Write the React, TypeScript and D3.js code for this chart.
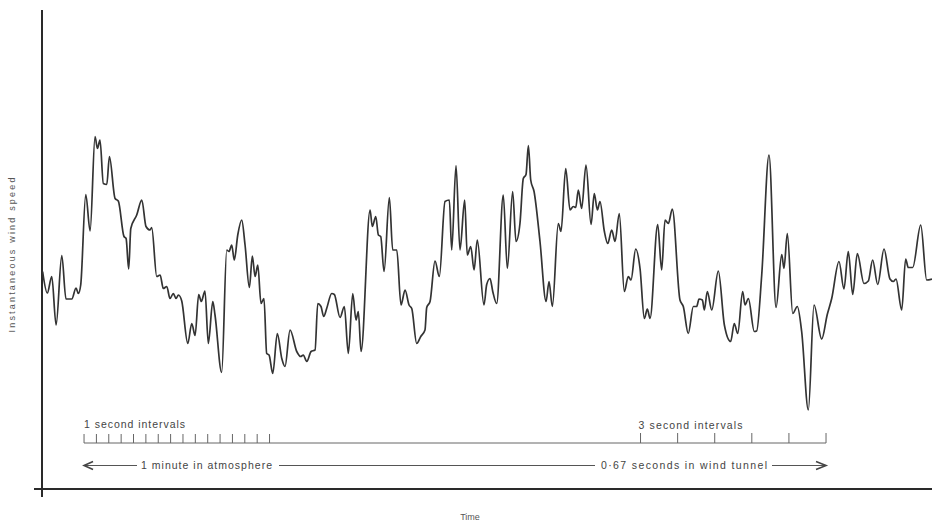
import React from "react";
import * as d3 from "d3";

// time in seconds (recorder trace, 1 minute in atmosphere = 0..60 s)
const timeS = [
  -3.35, -2.97, -2.61, -2.26, -1.8, -1.46, -0.99, -0.65, -0.46, -0.27, 0.14, 0.49, 0.89, 1.08, 1.29, 1.56, 1.84, 2.05, 2.51, 2.77,
  3.23, 3.4, 3.61, 3.78, 4.26, 4.67, 5.01, 5.34, 5.47, 5.88, 6.15, 6.41, 6.69, 6.95, 7.22, 7.44, 7.63, 7.9, 8.39, 8.71,
  8.98, 9.27, 9.48, 9.78, 10.05, 10.41, 10.59, 11.13, 11.54, 11.72, 11.94, 12.15, 12.43, 12.75, 13.02, 13.37, 13.61, 13.83, 14.05, 14.31,
  14.55, 14.77, 14.96, 15.26, 15.63, 15.99, 16.25, 16.66, 17.2, 17.52, 17.73, 18.01, 18.36, 18.68, 18.9, 19.16, 19.38, 19.62, 20.03, 20.24,
  20.7, 21.05, 21.37, 21.73, 21.99, 22.18, 22.4, 23.13, 23.31, 23.59, 23.8, 23.99, 24.26, 24.69, 24.96, 25.29, 25.63, 25.96, 26.28, 26.5,
  26.9, 27.23, 27.57, 27.71, 27.98, 28.38, 28.73, 29.19, 29.54, 29.73, 30.08, 30.4, 30.78, 30.99, 31.27, 31.54, 31.8, 32.34, 32.56, 32.83,
  33.05, 33.37, 33.9, 34.23, 34.66, 34.93, 35.25, 35.52, 35.74, 35.93, 36.12, 36.39, 36.87, 37.36, 37.6, 37.87, 38.35, 38.57, 38.95, 39.3,
  39.56, 39.76, 39.97, 40.24, 40.59, 41.0, 41.26, 41.51, 41.72, 42.07, 42.35, 42.67, 42.94, 43.28, 43.69, 44.01, 44.23, 44.61, 44.96, 45.31,
  45.55, 45.77, 46.39, 46.71, 46.98, 47.25, 47.57, 48.19, 48.46, 48.86, 49.27, 49.54, 49.73, 50.0, 50.16, 50.4, 50.76, 51.29, 51.78, 52.29,
  52.58, 52.86, 53.26, 53.45, 53.72, 54.2, 54.39, 54.8, 55.39, 55.96, 56.42, 56.6, 56.87, 57.31, 57.68, 58.03, 58.57, 59.03, 59.65, 60.1,
  60.46, 61.05, 61.45, 61.8, 62.16, 62.53, 63.07, 63.42, 63.77, 64.18, 64.69, 65.17, 65.44, 65.66, 66.12, 66.44, 66.65, 67.01, 67.66, 68.14,
  68.57,
];

// instantaneous wind speed (arbitrary units)
const windSpeed = [
  43.5, 39.2, 42.5, 32.8, 46.7, 38.0, 38.0, 40.2, 39.1, 40.8, 58.9, 51.6, 70.5, 68.1, 69.8, 61.1, 60.9, 66.5, 58.1, 57.6,
  50.5, 50.1, 44.0, 52.1, 54.8, 57.8, 52.5, 51.8, 52.3, 42.5, 42.8, 40.1, 40.5, 38.1, 39.1, 38.1, 38.8, 37.6, 29.1, 33.1,
  30.7, 38.9, 37.5, 39.6, 29.1, 37.5, 34.8, 23.3, 47.8, 47.5, 48.8, 45.8, 50.8, 53.8, 48.8, 40.3, 46.6, 42.5, 44.8, 37.1,
  38.1, 27.1, 26.8, 23.1, 31.1, 26.1, 24.5, 31.8, 27.5, 26.5, 26.8, 25.5, 27.5, 27.8, 37.1, 36.5, 34.5, 36.1, 39.1, 38.9,
  34.3, 36.5, 27.1, 39.1, 33.8, 35.5, 27.5, 55.8, 52.5, 54.5, 50.8, 50.5, 43.5, 58.3, 47.8, 47.8, 36.8, 39.8, 36.8, 36.1,
  29.1, 30.5, 31.8, 36.3, 37.5, 45.6, 42.5, 57.5, 57.8, 47.8, 64.7, 47.8, 57.8, 46.8, 48.5, 43.8, 49.8, 36.8, 40.9, 42.1,
  39.5, 37.1, 58.8, 44.1, 59.5, 49.5, 53.1, 62.1, 62.9, 68.7, 61.8, 59.5, 49.5, 37.5, 41.5, 36.5, 53.1, 51.5, 64.1, 55.8,
  56.5, 56.3, 59.8, 56.1, 64.8, 52.9, 59.1, 55.8, 57.5, 51.6, 49.1, 51.8, 49.5, 55.1, 39.5, 42.5, 41.8, 48.0, 44.1, 34.1,
  36.0, 34.1, 52.9, 43.8, 53.8, 53.1, 56.0, 37.8, 36.5, 31.1, 36.5, 36.5, 38.0, 37.8, 35.8, 39.5, 35.8, 43.6, 32.8, 29.5,
  33.1, 31.1, 39.5, 36.8, 38.1, 31.5, 31.6, 42.8, 66.8, 36.3, 46.9, 44.1, 51.1, 35.1, 36.5, 31.5, 15.8, 36.8, 30.0, 34.9,
  38.1, 45.5, 40.0, 47.5, 38.9, 47.1, 41.1, 41.6, 45.8, 40.9, 48.0, 42.0, 41.5, 42.0, 35.8, 46.0, 44.3, 44.3, 52.8, 41.8,
  42.0,
];

const oneSecondTicks = d3.range(0, 16); // seconds 0..15
const threeSecondTicks = [45, 48, 51, 54, 57, 60];
const scaleStart = 0;
const scaleEnd = 60;

const yAxisLabel = "Instantaneous  wind  speed";
const xAxisLabel = "Time";
const oneSecLabel = "1 second  intervals";
const threeSecLabel = "3 second  intervals";
const atmosphereLabel = "1 minute  in  atmosphere";
const tunnelLabel = "0·67  seconds  in  wind  tunnel";

export default function App() {
  const W = 932;
  const H = 522;
  const x = d3.scaleLinear().domain([-3.4, 68.57]).range([42, 932]);
  const y = d3.scaleLinear().domain([0, 95.8]).range([489, 10]);

  const data = timeS.map((t, i) => ({ t, v: windSpeed[i] }));
  const line = d3
    .line<{ t: number; v: number }>()
    .x((d) => x(d.t))
    .y((d) => y(d.v))
    .curve(d3.curveMonotoneX);

  const textColor = "#444";
  const font = "'Liberation Sans', Arial, Helvetica, sans-serif";
  const baseY = 443;
  const arrowY = 465.5;
  const x0 = x(scaleStart);
  const x1 = x(scaleEnd);

  return (
    <svg
      width={W}
      height={H}
      style={{ position: "absolute", left: 0, top: 0, background: "#fff" }}
      fontFamily={font}
    >
      {/* axes */}
      <line x1={42} y1={10} x2={42} y2={497} stroke="#2a2a2a" strokeWidth={2} />
      <line x1={34} y1={489} x2={932} y2={489} stroke="#2a2a2a" strokeWidth={2} />

      {/* trace */}
      <path d={line(data) || ""} fill="none" stroke="#333" strokeWidth={1.7} strokeLinejoin="round" />

      {/* axis labels */}
      <text
        transform={`translate(15,255) rotate(-90)`}
        textAnchor="middle"
        fontSize={9}
        fill="#555"
        textLength={155}
        lengthAdjust="spacing"
      >
        {yAxisLabel}
      </text>
      <text x={470} y={520} textAnchor="middle" fontSize={9} fill="#555">
        {xAxisLabel}
      </text>

      {/* interval scale */}
      <line x1={x0} y1={baseY} x2={x1} y2={baseY} stroke="#666" strokeWidth={1} />
      {oneSecondTicks.map((s) => (
        <line key={"s" + s} x1={x(s)} y1={baseY} x2={x(s)} y2={baseY - 9} stroke="#666" strokeWidth={1} />
      ))}
      {threeSecondTicks.map((s) => (
        <line key={"t" + s} x1={x(s)} y1={baseY} x2={x(s)} y2={baseY - 10} stroke="#666" strokeWidth={1} />
      ))}
      <text x={x0} y={428} fontSize={10.5} fill={textColor} textLength={101} lengthAdjust="spacing">
        {oneSecLabel}
      </text>
      <text x={x(45) - 2} y={429} fontSize={10.5} fill={textColor} textLength={104} lengthAdjust="spacing">
        {threeSecLabel}
      </text>

      {/* arrow row */}
      <line x1={x0 + 1} y1={arrowY} x2={137} y2={arrowY} stroke="#555" strokeWidth={1} />
      <path
        d={`M${x0 + 9},${arrowY - 4} L${x0},${arrowY} L${x0 + 9},${arrowY + 4}`}
        fill="none"
        stroke="#444"
        strokeWidth={1.6}
      />
      <text x={141} y={arrowY + 3.5} fontSize={10.5} fill={textColor} textLength={131} lengthAdjust="spacing">
        {atmosphereLabel}
      </text>
      <line x1={279} y1={arrowY} x2={595} y2={arrowY} stroke="#555" strokeWidth={1} />
      <text x={601} y={arrowY + 3.5} fontSize={10.5} fill={textColor} textLength={166} lengthAdjust="spacing">
        {tunnelLabel}
      </text>
      <line x1={772} y1={arrowY} x2={x1 - 1} y2={arrowY} stroke="#555" strokeWidth={1} />
      <path
        d={`M${x1 - 10},${arrowY - 4} L${x1},${arrowY} L${x1 - 10},${arrowY + 4}`}
        fill="none"
        stroke="#444"
        strokeWidth={1.6}
      />
    </svg>
  );
}
